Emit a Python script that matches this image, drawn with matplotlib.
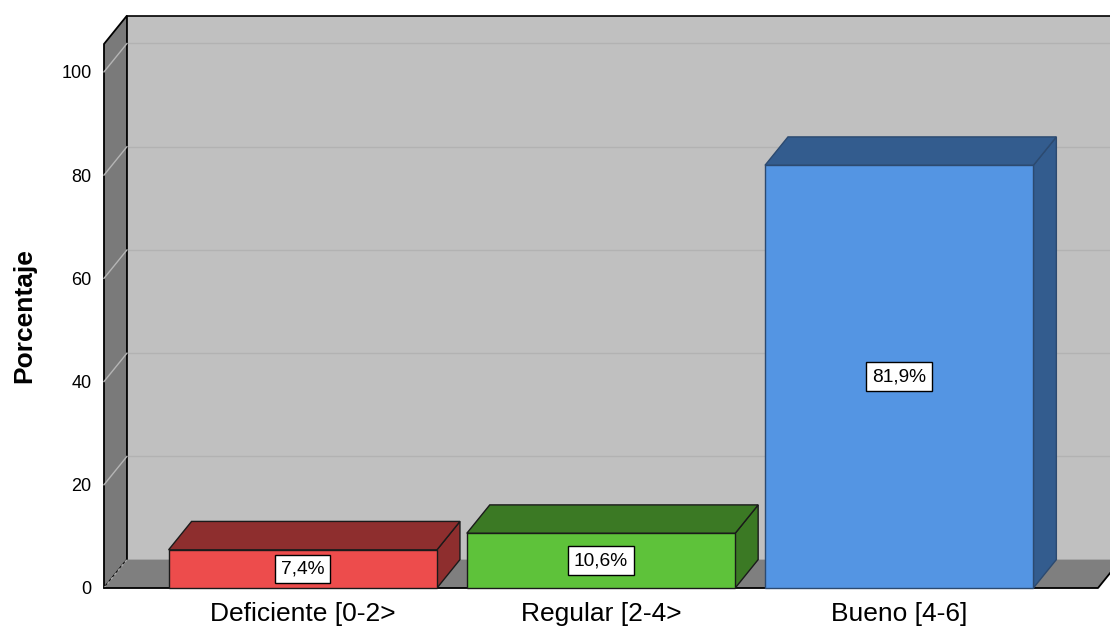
import matplotlib
matplotlib.use("Agg")
import matplotlib.pyplot as plt
from matplotlib.patches import Polygon, Rectangle

plt.rcParams['font.family'] = ['Liberation Sans', 'DejaVu Sans']

# Data
categories = ["Deficiente [0-2>", "Regular [2-4>", "Bueno [4-6]"]
percentages = [7.4, 10.6, 81.9]
value_labels = ["7,4%", "10,6%", "81,9%"]
y_ticks = [0, 20, 40, 60, 80, 100]

front_colors = ["#ED4C4C", "#5EC23A", "#5495E3"]
shade_colors = ["#8E2E2E", "#3B7924", "#335C8E"]
edge_colors = ["#1a1a1a", "#1a1a1a", "#2c4a70"]

# Layout of the pseudo-3D frame (data units)
x_lo, x_hi = -2 / 3, 8 / 3
y_top = 105.4
dx, dy = 0.077, 5.5          # depth offset of the back plane
bar_w = 0.9

W, H = 1110, 631
fig = plt.figure(figsize=(W / 100, H / 100), dpi=100)
fig.patch.set_facecolor("white")
ax = fig.add_axes([104 / W, (H - 588) / H, (1098 - 104) / W, (588 - 44) / H])
ax.set_xlim(x_lo, x_hi)
ax.set_ylim(0, y_top)
ax.patch.set_visible(False)
for s in ax.spines.values():
    s.set_visible(False)

def poly(pts, fc, ec="black", lw=1.0, z=1):
    p = Polygon(pts, closed=True, facecolor=fc, edgecolor=ec, linewidth=lw,
                zorder=z, clip_on=False, joinstyle="miter")
    ax.add_patch(p)
    return p

# Back wall
poly([(x_lo + dx, dy), (x_hi + dx + 1, dy), (x_hi + dx + 1, y_top + dy),
      (x_lo + dx, y_top + dy)], "#C0C0C0", ec="none", z=0)
ax.plot([x_lo + dx, x_hi + dx + 1], [y_top + dy, y_top + dy], color="black",
        lw=1.2, clip_on=False, zorder=0.5)
# back-wall gridlines
for t in y_ticks[1:]:
    ax.plot([x_lo + dx, x_hi + dx + 1], [t + dy, t + dy], color="#B2B2B2",
            lw=1.0, clip_on=False, zorder=0.4)

# Left wall
poly([(x_lo, 0), (x_lo + dx, dy), (x_lo + dx, y_top + dy), (x_lo, y_top)],
     "#7A7A7A", ec="black", lw=1.3, z=0.6)
for t in y_ticks[1:]:
    ax.plot([x_lo, x_lo + dx], [t, t + dy], color="#B5B5B5", lw=1.0,
            clip_on=False, zorder=0.7)

# Floor
poly([(x_lo, 0), (x_hi, 0), (x_hi + dx, dy), (x_lo + dx, dy)],
     "#7F7F7F", ec="none", z=0.6)
ax.plot([x_lo, x_hi, x_hi + dx], [0, 0, dy], color="black", lw=1.3,
        clip_on=False, zorder=0.8)
ax.plot([x_lo, x_lo + dx], [0, dy], color="#A8A8A8", lw=1.0, ls=(0, (2, 2)),
        clip_on=False, zorder=0.75)

# Bars
for i, v in enumerate(percentages):
    x0, x1 = i - bar_w / 2, i + bar_w / 2
    ec = edge_colors[i]
    poly([(x1, 0), (x1 + dx, dy), (x1 + dx, v + dy), (x1, v)],
         shade_colors[i], ec=ec, z=2)
    poly([(x0, v), (x1, v), (x1 + dx, v + dy), (x0 + dx, v + dy)],
         shade_colors[i], ec=ec, z=2)
    ax.add_patch(Rectangle((x0, 0), bar_w, v, facecolor=front_colors[i],
                           edgecolor=ec, linewidth=1.0, zorder=3,
                           clip_on=False))
    ax.text(i, v / 2, value_labels[i], ha="center", va="center", fontsize=13.8,
            zorder=5,
            bbox=dict(boxstyle="square,pad=0.3", facecolor="white",
                      edgecolor="black", linewidth=1.0))

# Axes ticks and labels
ax.set_yticks(y_ticks)
ax.set_yticklabels([str(t) for t in y_ticks], fontsize=13)
ax.set_xticks(range(len(categories)))
ax.set_xticklabels(categories, fontsize=19)
ax.tick_params(axis="y", length=0, pad=9)
ax.tick_params(axis="x", length=0, pad=10)
ax.set_ylabel("Porcentaje", fontsize=19, fontweight="bold")
ax.yaxis.set_label_coords((36 - 104) / (1098 - 104), 0.5)

fig.savefig("out.png", dpi=100)
